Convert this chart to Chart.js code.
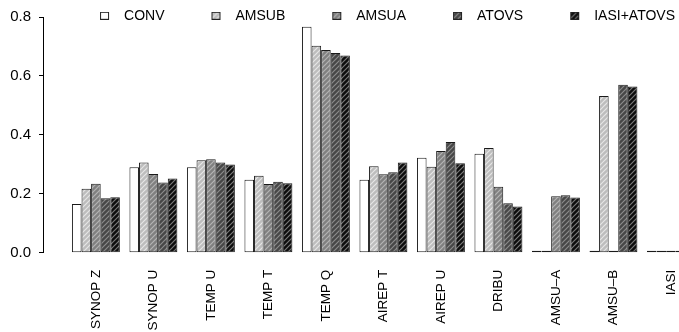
<!DOCTYPE html>
<html>
<head>
<meta charset="utf-8">
<script src="https://cdn.jsdelivr.net/npm/chart.js@4"></script>
<style>
  html, body { margin: 0; padding: 0; background: #fff; overflow: hidden; }
  #wrap { width: 679px; height: 332px; }
</style>
</head>
<body>
<div id="wrap"><canvas id="obsChart"></canvas></div>
<script>
const categories = ['SYNOP Z', 'SYNOP U', 'TEMP U', 'TEMP T', 'TEMP Q', 'AIREP T', 'AIREP U', 'DRIBU', 'AMSU–A', 'AMSU–B', 'IASI'];
const seriesNames = ['CONV', 'AMSUB', 'AMSUA', 'ATOVS', 'IASI+ATOVS'];

const conv  = [0.165, 0.290, 0.290, 0.248, 0.767, 0.248, 0.322, 0.336, 0, 0, 0];
const amsub = [0.217, 0.306, 0.314, 0.261, 0.702, 0.293, 0.292, 0.355, 0, 0.532, 0];
const amsua = [0.234, 0.267, 0.317, 0.233, 0.688, 0.266, 0.345, 0.224, 0.192, 0, 0];
const atovs = [0.185, 0.238, 0.306, 0.241, 0.678, 0.273, 0.376, 0.168, 0.195, 0.570, 0];
const iasiAtovs = [0.188, 0.252, 0.299, 0.236, 0.669, 0.306, 0.304, 0.157, 0.187, 0.564, 0];

const yTicks = [0, 0.2, 0.4, 0.6, 0.8];

const series = [conv, amsub, amsua, atovs, iasiAtovs];
const fills = ['#ffffff', '#bdbdbd', '#808080', '#474747', '#0d0d0d'];
const hatchLines = [null, '#e6e6e6', '#b4b4b4', '#8c8c8c', '#7a7a7a'];

// diagonal hatching like R's density/angle fill
function makeHatch(bg, line) {
    const size = 5;
    const tile = document.createElement('canvas');
    tile.width = size;
    tile.height = size;
    const c = tile.getContext('2d');
    c.fillStyle = bg;
    c.fillRect(0, 0, size, size);
    if (line) {
        c.strokeStyle = line;
        c.lineWidth = 1.2;
        c.beginPath();
        c.moveTo(0, size); c.lineTo(size, 0);
        c.moveTo(-1, 1); c.lineTo(1, -1);
        c.moveTo(size - 1, size + 1); c.lineTo(size + 1, size - 1);
        c.stroke();
    }
    return c.createPattern(tile, 'repeat');
}

// legend swatch: blank lead-in, then the small box (used as pointStyle image)
function makeLegendIcon(bg, line) {
    const icon = document.createElement('canvas');
    icon.width = 60;
    icon.height = 8;
    const c = icon.getContext('2d');
    c.fillStyle = makeHatch(bg, line);
    c.fillRect(43, 0, 9, 8);
    c.strokeStyle = '#222';
    c.lineWidth = 1;
    c.strokeRect(43.5, 0.5, 8, 7);
    return icon;
}

const patterns = fills.map((f, i) => makeHatch(f, hatchLines[i]));
const legendIcons = fills.map((f, i) => makeLegendIcon(f, hatchLines[i]));

// legend sits partly inside the plot (as in R), so don't clip it to its thin box
const legendOverlap = {
    id: 'legendOverlap',
    afterLayout(chart) {
        const lg = chart.legend;
        lg.height = 30;
        lg.bottom = lg.top + 30;
    }
};

Chart.defaults.font.family = "'Liberation Sans', Arial, sans-serif";
Chart.defaults.font.size = 14;
Chart.defaults.color = '#000';

const ctx = document.getElementById('obsChart').getContext('2d');

new Chart(ctx, {
    type: 'bar',
    data: {
        datasets: seriesNames.map((name, k) => ({
            label: name,
            data: series[k].map((v, i) => ({ x: i, y: v })),
            backgroundColor: patterns[k],
            borderColor: '#1a1a1a',
            borderWidth: 1,
            borderSkipped: false,
            minBarLength: 2,
            categoryPercentage: 5 / 6,
            barPercentage: 1
        }))
    },
    options: {
        responsive: true,
        maintainAspectRatio: false,
        animation: false,
        layout: { padding: { top: 3.5, left: 0, right: 0, bottom: 0 } },
        plugins: {
            legend: {
                position: 'top',
                align: 'end',
                maxHeight: 12.2,
                labels: {
                    usePointStyle: true,
                    pointStyleWidth: 60,
                    padding: 4,
                    generateLabels: chart => chart.data.datasets.map((ds, i) => ({
                        text: ds.label,
                        pointStyle: legendIcons[i],
                        datasetIndex: i,
                        hidden: false,
                        lineWidth: 0,
                        fillStyle: 'transparent',
                        strokeStyle: 'transparent'
                    }))
                }
            },
            tooltip: { enabled: false }
        },
        scales: {
            x: {
                type: 'linear',
                min: -0.92,
                max: 10.14,
                offset: false,
                afterBuildTicks: s => { s.ticks = categories.map((c, i) => ({ value: i })); },
                afterFit: s => {
                    s.height = 79.3;
                    s.paddingLeft = 0;
                    s.paddingRight = 0;
                },
                grid: { display: false, drawTicks: false },
                border: { display: false },
                ticks: {
                    autoSkip: false,
                    minRotation: 90,
                    maxRotation: 90,
                    padding: 17,
                    font: { size: 13.5 },
                    callback: v => categories[v] ?? ''
                }
            },
            y: {
                min: 0,
                max: 0.8,
                afterBuildTicks: s => { s.ticks = yTicks.map(v => ({ value: v })); },
                afterFit: s => { s.width = 43; },
                grid: { drawOnChartArea: false, tickLength: 4, color: '#000' },
                border: { color: '#000' },
                ticks: { padding: 8, font: { size: 15 }, callback: v => v.toFixed(1) }
            }
        }
    },
    plugins: [legendOverlap]
});
</script>
</body>
</html>
